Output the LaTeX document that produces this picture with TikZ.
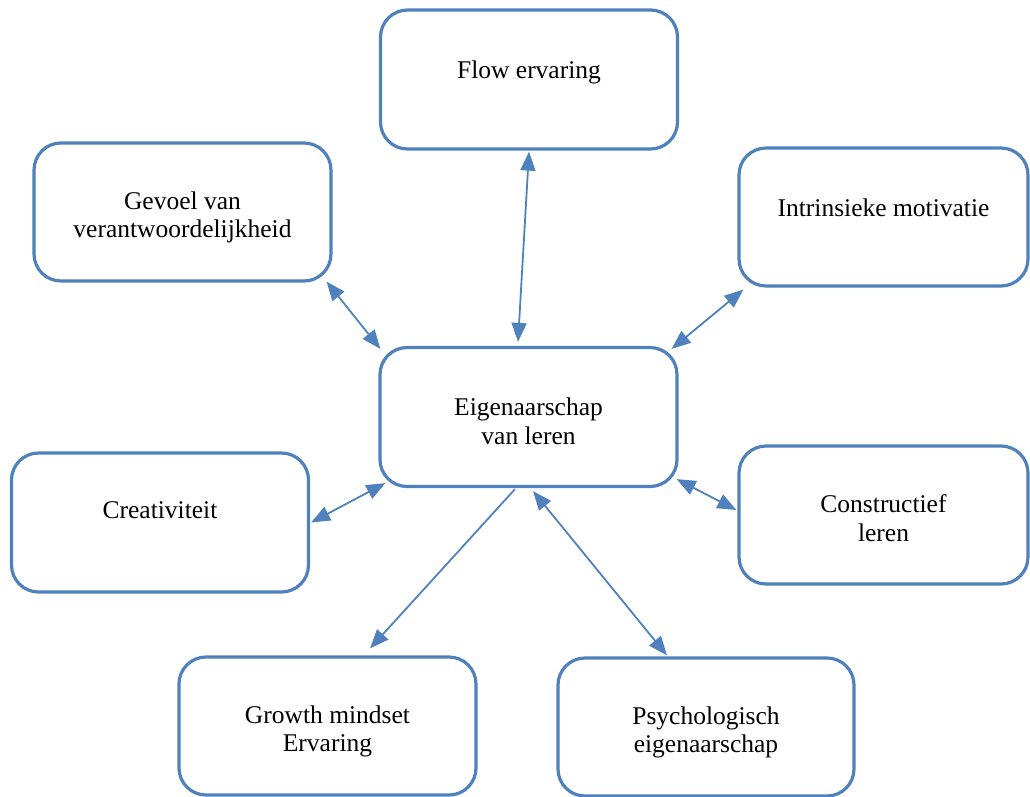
\documentclass[tikz,border=0pt]{standalone}
\usepackage{fontspec}
\setmainfont{Liberation Serif}
\usetikzlibrary{arrows.meta}
\definecolor{accent}{HTML}{4F81BD}
\begin{document}
\begin{tikzpicture}[x=1pt,y=-1pt,
  card/.style={draw=accent, line width=3.2pt, fill=white, rounded corners=27pt,
    inner sep=0pt, minimum width=297pt, minimum height=139pt},
  cardtext/.style={anchor=north, inner sep=0pt, align=center,
    font=\fontsize{25.5pt}{28.5pt}\selectfont},
  link/.style={draw=accent, line width=1.8pt,
    {Triangle[length=19pt,width=15pt]}-{Triangle[length=19pt,width=15pt]}},
  onelink/.style={draw=accent, line width=1.8pt,
    -{Triangle[length=19pt,width=15pt]}}]
\useasboundingbox (0,0) rectangle (1030,796);

% boxes
\node[card] (flow)   at (529,79.5) {};
\node[card] (eig)    at (528.5,417) {};
\node[card, minimum height=138pt] (gevoel) at (182.5,212) {};
\node[card, minimum width=289pt, minimum height=138pt] (intr) at (883.5,217) {};
\node[card] (creat)  at (160,522.5) {};
\node[card, minimum width=289pt, minimum height=138pt] (constr) at (883.5,515) {};
\node[card, minimum height=138pt] (growth) at (327.5,726) {};
\node[card, minimum width=296pt, minimum height=138pt] (psych)  at (706,727) {};

% labels, hung from the top edge of each box
\node[cardtext] (flowt)   at ([shift={(0,52)}]flow.north)   {Flow ervaring};
\node[cardtext] (eigt)    at ([shift={(0,52)}]eig.north)    {Eigenaarschap\\van leren};
\node[cardtext] (gevoelt) at ([shift={(0,50)}]gevoel.north) {Gevoel van\\verantwoordelijkheid};
\node[cardtext] (intrt)   at ([shift={(0,52)}]intr.north)   {Intrinsieke motivatie};
\node[cardtext] (creatt)  at ([shift={(0,50)}]creat.north)  {Creativiteit};
\node[cardtext] (constrt) at ([shift={(0,50)}]constr.north) {Constructief\\leren};
\node[cardtext] (growtht) at ([shift={(0,50)}]growth.north) {Growth mindset\\Ervaring};
\node[cardtext] (psycht)  at ([shift={(0,50)}]psych.north)  {Psychologisch\\eigenaarschap};

% connectors
\draw[link] ([shift={(-10.5,-4)}]eig.north) -- ([shift={(0,1)}]flow.south);
\draw[link] ([shift={(-6,-1)}]gevoel.south east) -- ([shift={(2,3)}]eig.north west);
\draw[link] ([shift={(6,2)}]intr.south west) -- ([shift={(-7,3)}]eig.north east);
\draw[link] ([shift={(1,0)}]creat.east) -- ([shift={(7,-5)}]eig.south west);
\draw[link] ([shift={(-1,-5)}]constr.west) -- ([shift={(-2,-9)}]eig.south east);
\draw[onelink] ([shift={(-13.5,1)}]eig.south) -- ([shift={(42.5,-7)}]growth.north);
\draw[link] ([shift={(4.5,3)}]eig.south) -- ([shift={(-39,-1)}]psych.north);
\end{tikzpicture}
\end{document}
